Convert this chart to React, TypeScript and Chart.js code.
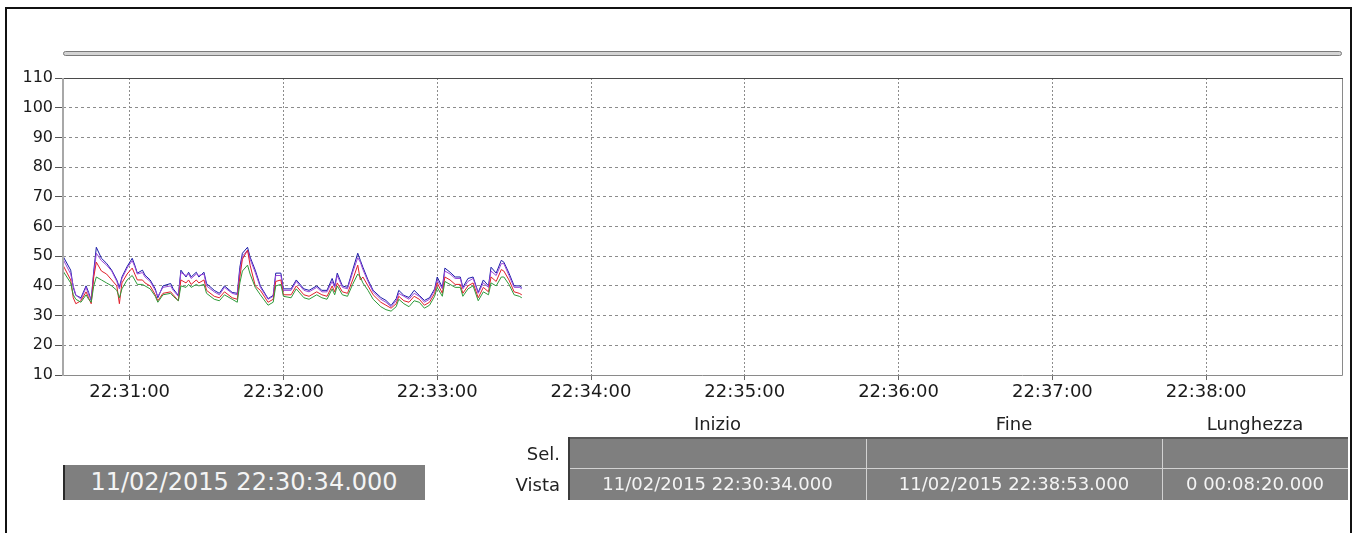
import React, { useEffect, useRef } from "react";
import { Chart, registerables } from "chart.js";

Chart.register(...registerables);

// ---- data ----
const START_SEC = 22 * 3600 + 30 * 60 + 34; // 22:30:34
const VIEW_SECONDS = 499; // 22:30:34 -> 22:38:53
const X_TICKS = [26, 86, 146, 206, 266, 326, 386, 446];
const Y_MIN = 10;
const Y_MAX = 110;

const times = [
  0, 3, 4, 5, 7, 9, 10, 11, 12, 13,
  15, 17, 19, 21, 22, 23, 25, 27, 28, 29,
  31, 32, 34, 36, 37, 39, 42, 43, 45, 46,
  48, 49, 50, 52, 53, 55, 56, 59, 61, 63,
  66, 68, 69, 70, 72, 73, 75, 77, 80, 82,
  83, 85, 86, 89, 91, 94, 96, 99, 101, 103,
  105, 106, 107, 109, 111, 113, 115, 116, 117, 119,
  121, 124, 126, 128, 130, 131, 133, 135, 137, 139,
  141, 143, 145, 146, 148, 149, 151, 153, 155, 156,
  158, 160, 162, 164, 166, 167, 169, 171, 172, 174,
  176, 178, 179,
];

const blue = [
  50, 45.3, 39.5, 36.8, 36, 40, 37.8, 35.1, 45, 53,
  49.3, 47.6, 45.3, 42, 39.5, 43, 46.5, 49.3, 47, 44.3,
  45.3, 43.6, 42, 39, 36, 40, 40.8, 39, 36.8, 45.3,
  43, 44.6, 43, 44.6, 43, 44.6, 40.8, 38.5, 37.5, 40,
  37.8, 37.5, 46.3, 51, 53, 49.7, 45.3, 40, 35.7, 36.8,
  44.3, 44.3, 39, 39, 42, 39, 38.5, 40, 38.5, 38.5,
  42.5, 40, 44.3, 40, 39.5, 45.3, 51, 48.6, 46.3, 42,
  38.5, 36.1, 35.1, 33.4, 35.7, 38.5, 36.8, 36.1, 38.5, 36.8,
  35.1, 36, 39, 43, 39.5, 46, 44.6, 43, 43, 39.5,
  42.5, 43, 37.8, 42, 40, 46.3, 44.3, 48.6, 48, 44.3,
  40, 40, 39.5,
];

const violet = [
  49, 44, 40, 37, 35.5, 39.5, 37, 35.5, 44, 51,
  48.5, 47, 45, 41.5, 39, 42.5, 46, 48.5, 46.5, 44,
  44.5, 43, 41.5, 38.5, 36.5, 39.5, 40, 38.5, 36.5, 44.5,
  43.5, 44, 42.5, 44, 43.5, 44, 40, 38, 37, 39.5,
  37.5, 37, 45, 50, 52, 49, 44.5, 39.5, 35.5, 36.5,
  43.5, 43.5, 38.5, 38.5, 41.5, 38.5, 38, 39.5, 38, 38,
  41.5, 39.5, 43.5, 39.5, 39, 44.5, 49.5, 48, 45.5, 41.5,
  38, 35.5, 34.5, 33, 35, 37.5, 36.5, 35.5, 37.5, 36.5,
  34.5, 35.5, 38.5, 42, 39, 45, 44, 42.5, 42.5, 39,
  41.5, 42.5, 37.5, 41, 39.5, 45, 43.5, 47.5, 47.5, 43.5,
  39.5, 39.5, 39,
];

const red = [
  47, 42, 36, 34, 35, 38, 36, 34, 43, 48,
  45, 44, 42, 40, 34, 41, 44, 46, 44, 42,
  42, 41, 40, 37, 35, 37.5, 38, 37, 35, 42,
  41, 42, 40.5, 42, 41, 42, 38.5, 36.5, 36, 38,
  36, 35.5, 43, 49, 52, 47, 40, 38.5, 34.5, 35.5,
  41.5, 42, 37, 37, 40, 37, 36.5, 38, 37, 36.5,
  40, 38, 41, 38, 37.5, 42, 47, 42, 43, 40,
  37, 34.5, 33.5, 32.5, 34, 36.5, 35, 34.5, 36.5, 35.5,
  33.5, 34.5, 37.5, 41, 37.5, 43, 42, 40.5, 40.5, 37.5,
  40, 41, 36, 39.5, 38, 43, 41.5, 45.5, 45, 42,
  38, 37.5, 37,
];

const green = [
  45, 41, 37, 35.5, 34.5, 37, 35.5, 34.5, 40, 43,
  42, 41, 40, 38.5, 36, 39, 42, 43.5, 42, 40.5,
  40.5, 40, 39, 36.5, 34.5, 37, 37.5, 36.5, 35, 40,
  39.5, 40.5, 39.5, 40.5, 40, 40.5, 37.5, 35.5, 35, 37,
  35.5, 34.5, 41, 45, 47, 44, 39.5, 37, 33.5, 34.5,
  40, 40.5, 36.5, 36, 39, 36, 35.5, 37, 36, 35.5,
  39, 37, 40, 37, 36.5, 40.5, 44, 43, 41, 38.5,
  35.5, 33, 32, 31.5, 33, 35.5, 34, 33, 35, 34.5,
  32.5, 33.5, 36.5, 39.5, 36.5, 41.5, 40.5, 39.5, 39.5, 36.5,
  39, 40, 35, 38, 37, 41, 40, 43, 43, 40.5,
  37, 36.5, 36,
];

const tableHeaders = ["Inizio", "Fine", "Lunghezza"];
const rowLabels = ["Sel.", "Vista"];
const selRow = ["", "", ""];
const vistaRow = ["11/02/2015 22:30:34.000", "11/02/2015 22:38:53.000", "0 00:08:20.000"];
const cursorTime = "11/02/2015 22:30:34.000";

const FONT = "'DejaVu Sans', sans-serif";

function fmtTime(offset: number): string {
  const s = START_SEC + offset;
  const hh = Math.floor(s / 3600) % 24;
  const mm = Math.floor((s % 3600) / 60);
  const ss = Math.floor(s % 60);
  const p = (n: number) => String(n).padStart(2, "0");
  return `${p(hh)}:${p(mm)}:${p(ss)}`;
}

const toPoints = (vals: number[]) => vals.map((v, i) => ({ x: times[i], y: v }));

const framePlugin = {
  id: "plotFrame",
  afterDatasetsDraw(chart: any) {
    const { ctx, chartArea: a } = chart;
    ctx.save();
    ctx.setLineDash([]);
    ctx.lineWidth = 1;
    ctx.strokeStyle = "#8a8a8a";
    ctx.beginPath();
    ctx.moveTo(a.right + 0.5, a.top);
    ctx.lineTo(a.right + 0.5, a.bottom + 0.5);
    ctx.lineTo(a.left, a.bottom + 0.5);
    ctx.stroke();
    ctx.strokeStyle = "#4a4a4a";
    ctx.beginPath();
    ctx.moveTo(a.left, a.top + 0.5);
    ctx.lineTo(a.right + 1, a.top + 0.5);
    ctx.stroke();
    ctx.strokeStyle = "#a8a8a8";
    ctx.lineWidth = 2;
    ctx.beginPath();
    ctx.moveTo(a.left, a.top);
    ctx.lineTo(a.left, a.bottom + 1);
    ctx.stroke();
    ctx.restore();
  },
};

export default function App() {
  const canvasRef = useRef<HTMLCanvasElement | null>(null);

  useEffect(() => {
    if (!canvasRef.current) return;
    const mk = (label: string, data: number[], color: string) => ({
      label,
      data: toPoints(data),
      borderColor: color,
      backgroundColor: color,
      borderWidth: 1,
      pointRadius: 0,
      tension: 0,
      fill: false,
    });
    const chart = new Chart(canvasRef.current, {
      type: "line",
      data: {
        datasets: [
          mk("green", green, "#2e9a3a"),
          mk("red", red, "#e0202a"),
          mk("violet", violet, "#9a48d8"),
          mk("blue", blue, "#1a1aa8"),
        ],
      },
      options: {
        animation: false,
        responsive: false,
        maintainAspectRatio: false,
        layout: { padding: { left: 0, top: 78, right: 13, bottom: 0 } },
        plugins: { legend: { display: false }, tooltip: { enabled: false }, title: { display: false } },
        scales: {
          x: {
            type: "linear",
            min: 0,
            max: VIEW_SECONDS,
            afterFit: (s: any) => {
              s.height = 158;
            },
            afterBuildTicks: (s: any) => {
              s.ticks = X_TICKS.map((v) => ({ value: v }));
            },
            ticks: {
              autoSkip: false,
              maxRotation: 0,
              padding: 2,
              color: "#1a1a1a",
              font: { family: FONT, size: 18 },
              callback: (v: any) => fmtTime(Number(v)),
            },
            grid: {
              color: "#8c8c8c",
              lineWidth: 1,
              tickLength: 5,
              tickColor: "#666",
              tickBorderDash: [],
            },
            border: { display: false, dash: [2, 2] },
          },
          y: {
            type: "linear",
            min: Y_MIN,
            max: Y_MAX,
            afterFit: (s: any) => {
              s.width = 63;
            },
            ticks: {
              stepSize: 10,
              padding: 2,
              color: "#1a1a1a",
              font: { family: FONT, size: 16 },
            },
            grid: {
              color: (c: any) =>
                c.tick && (c.tick.value === Y_MIN || c.tick.value === Y_MAX) ? "rgba(0,0,0,0)" : "#8c8c8c",
              lineWidth: 1,
              tickLength: 8,
              tickColor: "#555",
              tickBorderDash: [],
            },
            border: { display: false, dash: [3, 3] },
          },
        },
      },
      plugins: [framePlugin],
    });
    return () => chart.destroy();
  }, []);

  const colL = [569, 866, 1162];
  const colR = [866, 1162, 1348];
  const txt: React.CSSProperties = {
    position: "absolute",
    fontFamily: FONT,
    fontSize: 18,
    lineHeight: "20px",
    whiteSpace: "nowrap",
  };

  return (
    <div
      style={{
        position: "fixed",
        left: 0,
        top: 0,
        width: 1355,
        height: 533,
        overflow: "hidden",
        background: "#fff",
      }}
    >
      <div
        style={{
          position: "absolute",
          left: 5,
          top: 7,
          width: 1347,
          height: 620,
          border: "2px solid #111",
          boxSizing: "border-box",
        }}
      />
      <div
        style={{
          position: "absolute",
          left: 63,
          top: 51,
          width: 1279,
          height: 5,
          border: "1px solid #7a7a7a",
          background: "#d4d4d4",
          borderRadius: 3,
          boxSizing: "border-box",
        }}
      />
      <canvas
        ref={canvasRef}
        width={1355}
        height={533}
        style={{ position: "absolute", left: 0, top: 0, width: 1355, height: 533 }}
      />
      {tableHeaders.map((h, i) => (
        <div
          key={h}
          style={{ ...txt, left: colL[i], width: colR[i] - colL[i], top: 414, textAlign: "center", color: "#222" }}
        >
          {h}
        </div>
      ))}
      <div style={{ position: "absolute", left: 569, top: 438, width: 779, height: 62, background: "#7f7f7f" }} />
      <div style={{ position: "absolute", left: 569, top: 437, width: 779, height: 2, background: "#5a5a5a" }} />
      <div style={{ position: "absolute", left: 568, top: 437, width: 2, height: 63, background: "#3c3c3c" }} />
      <div style={{ position: "absolute", left: 570, top: 468, width: 778, height: 1, background: "#d2d2d2" }} />
      {[866, 1162].map((x) => (
        <div key={x} style={{ position: "absolute", left: x, top: 439, width: 1, height: 61, background: "#d2d2d2" }} />
      ))}
      {rowLabels.map((r, i) => (
        <div key={r} style={{ ...txt, left: 460, width: 100, top: 444 + i * 31, textAlign: "right", color: "#222" }}>
          {r}
        </div>
      ))}
      {selRow.map((v, i) => (
        <div
          key={"s" + i}
          style={{ ...txt, left: colL[i], width: colR[i] - colL[i], top: 444, textAlign: "center", color: "#f4f4f4" }}
        >
          {v}
        </div>
      ))}
      {vistaRow.map((v, i) => (
        <div
          key={"v" + i}
          style={{ ...txt, left: colL[i], width: colR[i] - colL[i], top: 474, textAlign: "center", color: "#f4f4f4" }}
        >
          {v}
        </div>
      ))}
      <div style={{ position: "absolute", left: 63, top: 465, width: 362, height: 35, background: "#7f7f7f" }} />
      <div style={{ position: "absolute", left: 63, top: 465, width: 2, height: 35, background: "#2a2a2a" }} />
      <div
        style={{
          ...txt,
          left: 63,
          width: 362,
          top: 468,
          fontSize: 24,
          lineHeight: "28px",
          textAlign: "center",
          color: "#f4f4f4",
        }}
      >
        {cursorTime}
      </div>
    </div>
  );
}
